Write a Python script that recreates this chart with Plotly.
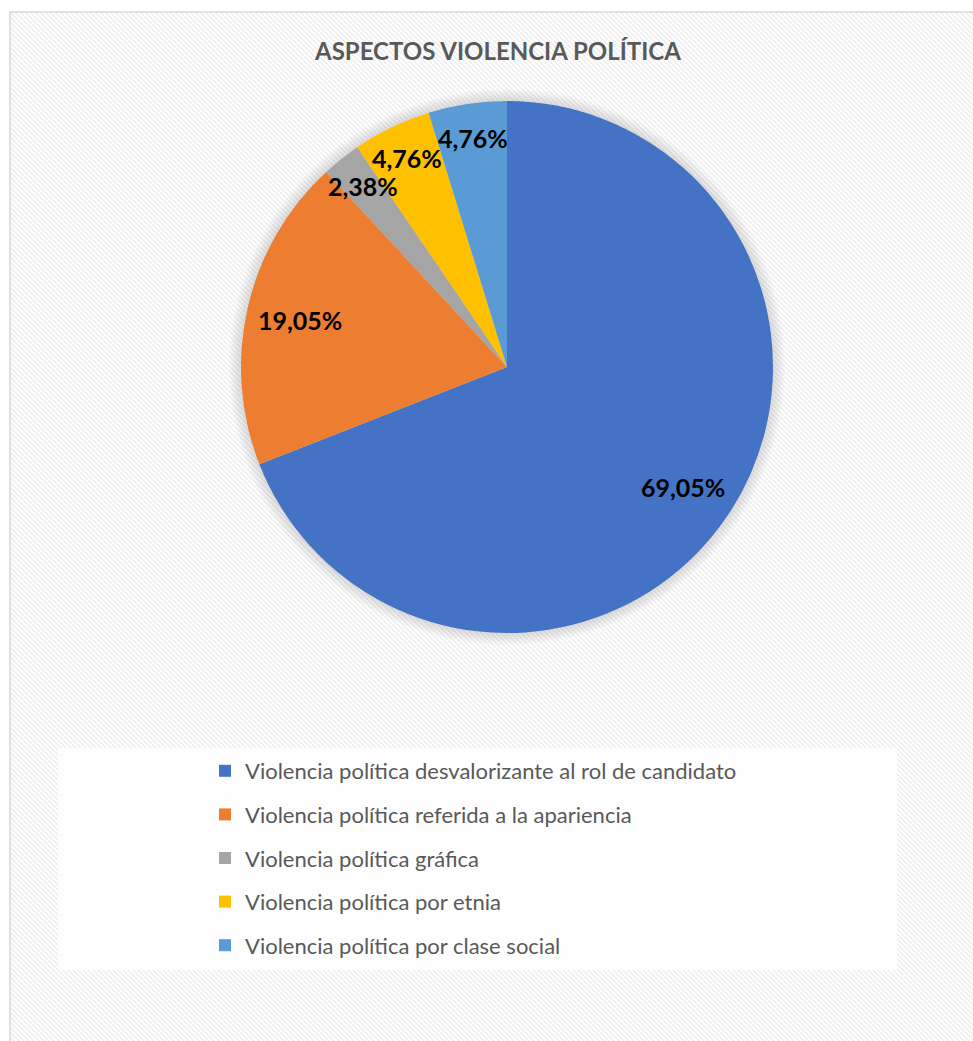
import base64
import math
import plotly.graph_objects as go

# ---- data ----
categories = [
    "Violencia política desvalorizante al rol de candidato",
    "Violencia política referida a la apariencia",
    "Violencia política gráfica",
    "Violencia política por etnia",
    "Violencia política por clase social",
]
values = [69.05, 19.05, 2.38, 4.76, 4.76]
value_labels = ["69,05%", "19,05%", "2,38%", "4,76%", "4,76%"]
colors = ["#4472C4", "#ED7D31", "#A5A5A5", "#FFC000", "#5B9BD5"]
title_text = "ASPECTOS VIOLENCIA POLÍTICA"

W, H = 973, 1041
FONT = "Lato"

# pie geometry (pixels)
cx, cy, R = 507, 367, 266


def px(x):
    return x / W


def py(y):
    return 1 - y / H


fig = go.Figure()

fig.add_trace(go.Pie(
    labels=categories,
    values=values,
    sort=False,
    direction="clockwise",
    rotation=0,
    marker=dict(colors=colors, line=dict(width=0)),
    textinfo="none",
    hoverinfo="label+percent",
    showlegend=False,
    domain=dict(x=[px(cx - R), px(cx + R)], y=[py(cy + R), py(cy - R)]),
))

# legend entries (one per category, so spacing can be controlled)
for name, col in zip(categories, colors):
    fig.add_trace(go.Scatter(
        x=[None], y=[None], mode="markers", name=name,
        marker=dict(symbol="square", size=12, color=col),
        legendgroup=name, showlegend=True, hoverinfo="skip",
    ))

# data labels positioned from slice angles
annotations = []
total = sum(values)
cum = 0.0
for v, lab in zip(values, value_labels):
    mid = (cum + v / 2) / total * 2 * math.pi
    cum += v
    frac = 0.80 if v / total > 0.1 else 0.87
    x = cx + R * frac * math.sin(mid)
    y = cy - R * frac * math.cos(mid)
    annotations.append(dict(
        x=px(x), y=py(y), xref="paper", yref="paper", text=f"<b>{lab}</b>",
        showarrow=False, font=dict(family=FONT, size=25, color="#000000"),
        xanchor="center", yanchor="middle",
    ))

annotations.append(dict(
    x=px(497), y=py(50), xref="paper", yref="paper", text=f"<b>{title_text}</b>",
    showarrow=False, font=dict(family=FONT, size=24, color="#595959"),
    xanchor="center", yanchor="middle",
))

# hatched background as an svg pattern
svg = f'''<svg xmlns="http://www.w3.org/2000/svg" width="{W - 10}" height="{H - 12}">
<defs><pattern id="p" patternUnits="userSpaceOnUse" width="5" height="5">
<rect width="5" height="5" fill="#ffffff"/>
<path d="M-1,-1 L6,6 M-1,4 L1,6 M4,-1 L6,1" stroke="#ededed" stroke-width="1.5"/>
</pattern></defs>
<rect width="100%" height="100%" fill="url(#p)"/>
</svg>'''
src = "data:image/svg+xml;base64," + base64.b64encode(svg.encode()).decode()

shapes = []
# soft shadow around the pie
for k in range(1, 9):
    r = R + k * 1.5
    shapes.append(dict(
        type="circle", xref="paper", yref="paper",
        x0=px(cx - r), x1=px(cx + r), y0=py(cy + r), y1=py(cy - r),
        fillcolor="rgba(120,120,120,0.03)", line=dict(width=0), layer="below",
    ))
# legend panel
shapes.append(dict(
    type="rect", xref="paper", yref="paper",
    x0=px(58), x1=px(897), y0=py(970), y1=py(748),
    fillcolor="rgba(255,255,255,0.8)", line=dict(width=0), layer="below",
))
# chart border
shapes.append(dict(
    type="rect", xref="paper", yref="paper",
    x0=px(10), x1=px(W + 5), y0=py(H + 5), y1=py(12),
    fillcolor="rgba(0,0,0,0)", line=dict(width=1.5, color="#d9d9d9"), layer="above",
))

fig.update_layout(
    width=W, height=H,
    margin=dict(l=0, r=0, t=0, b=0),
    paper_bgcolor="white",
    plot_bgcolor="rgba(0,0,0,0)",
    xaxis=dict(visible=False),
    yaxis=dict(visible=False),
    images=[dict(
        source=src, xref="paper", yref="paper",
        x=px(10), y=py(12), sizex=(W - 10) / W, sizey=(H - 12) / H,
        sizing="stretch", layer="below", xanchor="left", yanchor="top",
    )],
    shapes=shapes,
    annotations=annotations,
    legend=dict(
        x=px(205), y=py(750), xanchor="left", yanchor="top",
        bgcolor="rgba(0,0,0,0)", font=dict(family=FONT, size=22, color="#595959"),
        tracegroupgap=12, itemclick=False, itemdoubleclick=False,
    ),
    font=dict(family=FONT),
)

fig.write_html("out.html", config={"displayModeBar": False},
               post_script="document.body.style.margin='0px';")
